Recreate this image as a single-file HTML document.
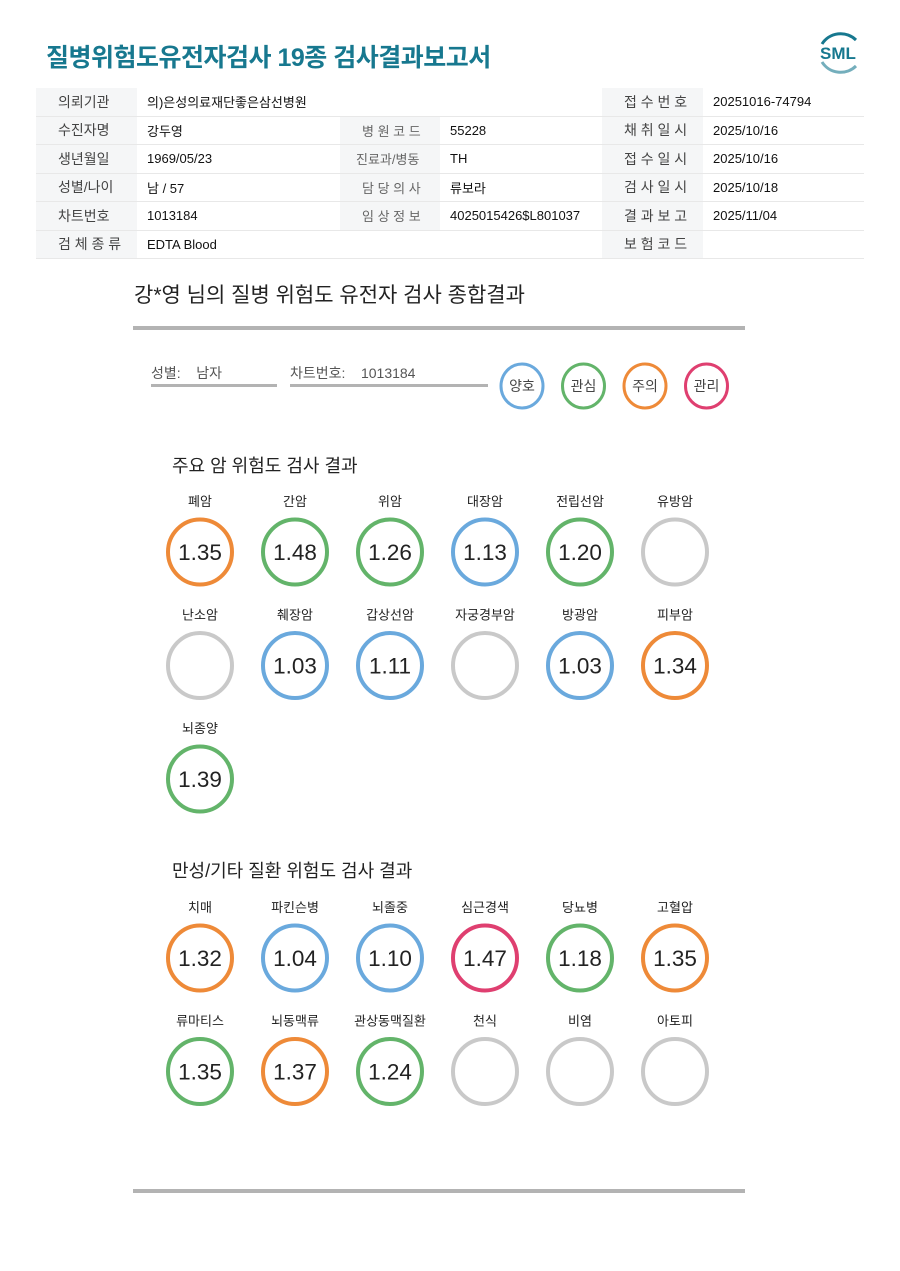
<!DOCTYPE html>
<html><head><meta charset="utf-8">
<style>
body{margin:0;width:900px;height:1271px;background:#fff;position:relative;overflow:hidden;font-family:"Liberation Sans","Noto Sans CJK KR",sans-serif;color:#222}
.a{position:absolute}
.title{left:46px;top:38px;font-size:25px;font-weight:bold;color:#17788f;letter-spacing:-0.5px}
table{position:absolute;left:36px;top:88px;width:828px;border-collapse:collapse;font-size:13px;color:#111}
td{height:27.5px;border-bottom:1px solid #e8e8e8;padding:0 0 0 10px}
td.l{background:#f5f6f7;color:#444;padding-left:22px;font-size:14px}
.h2{font-size:21px;color:#222}
.bar{background:#b3b3b3;height:4px}
.sec{font-size:18px}
</style></head><body>
<div class="a title">질병위험도유전자검사 19종 검사결과보고서</div>
<svg class="a" style="left:812px;top:28px" width="52" height="48">
<path d="M10 16 A22 22 0 0 1 44 12" stroke="#17788f" stroke-width="3" fill="none"/>
<path d="M10 34 A22 22 0 0 0 44 38" stroke="#17788f" stroke-width="3" fill="none" opacity=".6"/>
<text x="26" y="31" text-anchor="middle" font-size="17" font-weight="bold" fill="#17788f" font-family="Liberation Sans">SML</text></svg>
<table>
<tr><td class="l" style="width:79px">의뢰기관</td><td colspan="3">의)은성의료재단좋은삼선병원</td><td class="l" style="width:79px">접 수 번 호</td><td>20251016-74794</td></tr>
<tr><td class="l">수진자명</td><td style="width:193px">강두영</td><td class="l" style="width:78px;color:#666;font-size:13px">병 원 코 드</td><td style="width:152px">55228</td><td class="l">채 취 일 시</td><td>2025/10/16</td></tr>
<tr><td class="l">생년월일</td><td>1969/05/23</td><td class="l" style="padding-left:16px;font-size:13px;color:#666">진료과/병동</td><td>TH</td><td class="l">접 수 일 시</td><td>2025/10/16</td></tr>
<tr><td class="l">성별/나이</td><td>남 / 57</td><td class="l" style="font-size:13px;color:#666">담 당 의 사</td><td>류보라</td><td class="l">검 사 일 시</td><td>2025/10/18</td></tr>
<tr><td class="l">차트번호</td><td>1013184</td><td class="l" style="font-size:13px;color:#666">임 상 정 보</td><td>4025015426$L801037</td><td class="l">결 과 보 고</td><td>2025/11/04</td></tr>
<tr><td class="l">검 체 종 류</td><td colspan="3">EDTA Blood</td><td class="l">보 험 코 드</td><td></td></tr>
</table>
<div class="a h2" style="left:134px;top:279px">강*영 님의 질병 위험도 유전자 검사 종합결과</div>
<div class="a bar" style="left:133px;top:326px;width:612px"></div>
<div class="a" style="left:151px;top:363px;font-size:14px;color:#555">성별: &nbsp;&nbsp;&nbsp;남자</div>
<div class="a bar" style="left:151px;top:384px;width:126px;height:3px"></div>
<div class="a" style="left:290px;top:363px;font-size:14px;color:#555">차트번호: &nbsp;&nbsp;&nbsp;1013184</div>
<div class="a bar" style="left:290px;top:384px;width:198px;height:3px"></div>
<div class="a sec" style="left:172px;top:452px">주요 암 위험도 검사 결과</div>
<div class="a sec" style="left:172px;top:857px">만성/기타 질환 위험도 검사 결과</div>
<div class="a bar" style="left:133px;top:1189px;width:612px"></div>
<svg id="chart" class="a" style="left:0;top:0" width="900" height="1271"></svg>
<script>
const legendLabels=["양호","관심","주의","관리"];
const cancerNames=["폐암","간암","위암","대장암","전립선암","유방암","난소암","췌장암","갑상선암","자궁경부암","방광암","피부암","뇌종양"];
const cancerValues=[1.35,1.48,1.26,1.13,1.20,null,null,1.03,1.11,null,1.03,1.34,1.39];
const cancerLevels=[2,1,1,0,1,-1,-1,0,0,-1,0,2,1];
const chronicNames=["치매","파킨슨병","뇌졸중","심근경색","당뇨병","고혈압","류마티스","뇌동맥류","관상동맥질환","천식","비염","아토피"];
const chronicValues=[1.32,1.04,1.10,1.47,1.18,1.35,1.35,1.37,1.24,null,null,null];
const chronicLevels=[2,0,0,3,1,2,1,2,1,-1,-1,-1];
const colors=["#6aa9dd","#63b46a","#ee8a38","#df3f70"];
const gray="#c9c9c9";
const svg=document.getElementById('chart');const NS="http://www.w3.org/2000/svg";
function mk(t,a){const e=document.createElementNS(NS,t);for(const k in a)e.setAttribute(k,a[k]);svg.appendChild(e);return e;}
legendLabels.forEach((l,i)=>{const cx=522+i*61.5;
const c=mk('ellipse',{cx:cx,cy:386,rx:21,ry:22,fill:'none',stroke:colors[i],'stroke-width':3});


const t=mk('text',{x:cx,y:391,'text-anchor':'middle','font-size':14,fill:'#444'});t.textContent=l;});
function grid(names,vals,levels,top,prefix){names.forEach((n,i)=>{const col=i%6,row=Math.floor(i/6);const cx=200+col*95;const cy=top+row*113.5;
const lb=mk('text',{x:cx,y:cy-46,'text-anchor':'middle','font-size':13,fill:'#222'});lb.textContent=n;


const c=mk('ellipse',{cx:cx,cy:cy,rx:32,ry:32.5,fill:'none',stroke:levels[i]<0?gray:colors[levels[i]],'stroke-width':4});


if(vals[i]!=null){const t=mk('text',{x:cx,y:cy+8,'text-anchor':'middle','font-size':22.5,fill:'#222'});t.textContent=vals[i].toFixed(2);

}});}
grid(cancerNames,cancerValues,cancerLevels,552,'cancer');
grid(chronicNames,chronicValues,chronicLevels,958,'chronic');
</script>
</body></html>
